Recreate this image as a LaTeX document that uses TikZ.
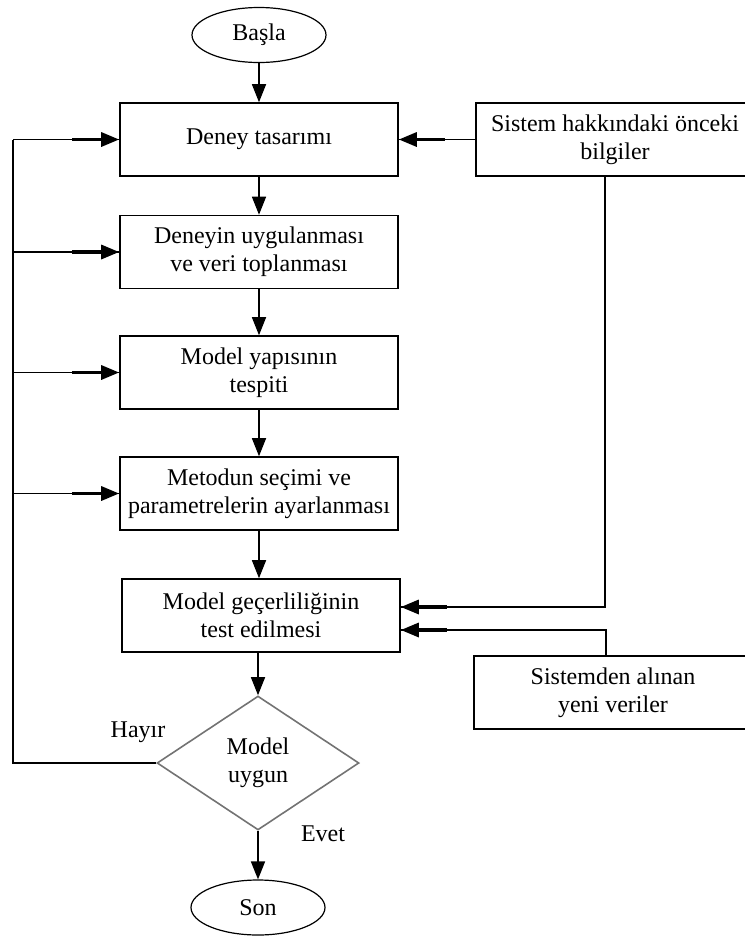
\documentclass[tikz,border=0pt]{standalone}
\usepackage{fontspec}
\setmainfont{Liberation Serif}
\usetikzlibrary{shapes.geometric,arrows.meta}

\tikzset{
  yazi/.style={font=\fontsize{24}{28}\selectfont, align=center},
  kutu/.style={yazi, draw, line width=1.6pt, minimum width=278pt, minimum height=73pt, inner sep=0pt},
  uc/.style={yazi, draw, ellipse, line width=1.2pt, minimum width=134pt, minimum height=55pt, inner sep=0pt},
  karar/.style={yazi, draw=black!55, diamond, line width=1.6pt, minimum width=202pt, minimum height=134pt, inner sep=0pt},
  hat/.style={line width=1.6pt},
  ok/.style={hat, -{Triangle[length=18pt 0 0, width=14pt 0 0]}},
  kalin/.style={line width=3.2pt, -{Triangle[length=18pt 0 0, width=14pt 0 0]}},
}

\begin{document}
\begin{tikzpicture}[x=1pt, y=-1pt]
\useasboundingbox (0,0) rectangle (745,938);

\node[uc] (basla) at (259, 35) {Başla};
\node[kutu] (tasarim) at (259, 139.5) {Deney tasarımı};
\node[kutu] (uygula) at (259, 252) {Deneyin uygulanması\\ve veri toplanması};
\node[kutu] (yapi) at (259, 372.5) {Model yapısının\\tespiti};
\node[kutu] (metod) at (259, 493.5) {Metodun seçimi ve\\parametrelerin ayarlanması};
\node[kutu] (gecerli) at (261, 615.5) {Model geçerliliğinin\\test edilmesi};
\node[karar] (uygun) at (258, 763) {Model\\uygun};
\node[uc] (son) at (258, 907.5) {Son};

\node[kutu] (bilgi) at (615, 139.5) {Sistem hakkındaki önceki\\bilgiler};
\node[kutu] (yeni) at (613, 692.5) {Sistemden alınan\\yeni veriler};

\coordinate (sol) at (13, 139.5);

% ana akis
\draw[ok] (basla.south) -- (basla.south |- tasarim.north);
\draw[ok] (tasarim) -- (uygula);
\draw[ok] (uygula) -- (yapi);
\draw[ok] (yapi) -- (metod);
\draw[ok] (metod.south) -- (metod.south |- gecerli.north);
\draw[ok] (gecerli.south -| uygun.north) -- (uygun.north);
\draw[ok] (uygun) -- (son);

% geri besleme
\draw[hat] (uygun.west) -| (sol);
\foreach \k in {tasarim,uygula,yapi,metod} {
  \draw[hat] (sol |- \k.west) -- (\k.west);
  \draw[kalin] ([xshift=-47pt]\k.west) -- (\k.west);
}

% dis girdiler
\draw[hat] (bilgi.west) -- (tasarim.east);
\draw[kalin] ([xshift=46pt]tasarim.east) -- (tasarim.east);
\draw[hat] ([xshift=-10pt]bilgi.south) |- ([yshift=8.5pt]gecerli.east);
\draw[kalin] ([xshift=46pt, yshift=8.5pt]gecerli.east) -- ([yshift=8.5pt]gecerli.east);
\draw[hat] ([xshift=-7pt]yeni.north) |- ([yshift=-14.5pt]gecerli.east);
\draw[kalin] ([xshift=46pt, yshift=-14.5pt]gecerli.east) -- ([yshift=-14.5pt]gecerli.east);

\node[yazi] (hayir) at (138, 732) {Hayır};
\node[yazi] (evet) at (323, 834) {Evet};
\end{tikzpicture}
\end{document}
